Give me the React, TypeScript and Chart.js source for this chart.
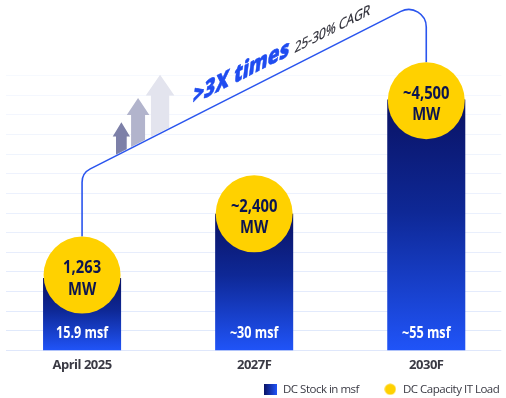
import React, { useEffect, useRef } from 'react';
import { Chart, registerables } from 'chart.js';

Chart.register(...registerables);

// ---------------- data ----------------
const CATEGORIES = ['April 2025', '2027F', '2030F'];
const DC_STOCK_MSF = [15.9, 30, 55];
const DC_STOCK_LABELS = ['15.9 msf', '~30 msf', '~55 msf'];
const IT_LOAD_MW = [1263, 2400, 4500];
const IT_LOAD_LABELS = ['1,263', '~2,400', '~4,500'];
const IT_LOAD_UNIT = 'MW';
const GROWTH_TEXT = '>3X times';
const CAGR_TEXT = '25-30% CAGR';
const LEGEND_LABELS = ['DC Stock in msf', 'DC Capacity IT Load'];

// ---------------- style ----------------
const W = 506;
const H = 398;
const FONT = '"Open Sans", "Noto Sans", sans-serif';
const NAVY = '#0a1263';
const MID = '#0e2896';
const BLUE = '#2054f8';
const YELLOW = '#FFD100';
const LINE_BLUE = '#2a55ee';
const TEXT_DARK = '#3a3a44';
const CIRCLE_TEXT = '#0b1450';
const SLOPE = -0.507;

const ARROWS = [
  { dx: 39.3, head: 17.3, shaft: 10.7, rise: 30.8, headH: 14.3, color: '#7d80a8' },
  { dx: 56, head: 22.6, shaft: 14, rise: 46.7, headH: 17, color: '#b2b4cc' },
  { dx: 78, head: 28.6, shaft: 18.3, rise: 58.6, headH: 20.7, color: '#e3e4ee' },
];

function geom(chart: any) {
  const pts = chart.getDatasetMeta(1).data;
  if (!pts || pts.length < 2 || !chart.chartArea) return null;
  const first = pts[0];
  const last = pts[pts.length - 1];
  const x1 = first.x;
  const x3 = last.x;
  const yC2 = chart.chartArea.top - 77;
  const yC1 = yC2 - SLOPE * (x3 - x1);
  const r1 = first.options.radius;
  const r3 = last.options.radius;
  return {
    x1, x3, yC1, yC2,
    start: first.y - r1,
    end: last.y - r3,
    yAt: (x: number) => yC1 + SLOPE * (x - x1),
  };
}

function scaledText(ctx: any, text: string, x: number, y: number, font: string, color: string, sx: number) {
  ctx.save();
  ctx.letterSpacing = '0px';
  ctx.font = font;
  ctx.fillStyle = color;
  ctx.textAlign = 'center';
  ctx.textBaseline = 'alphabetic';
  ctx.translate(x, y);
  ctx.scale(sx, 1);
  ctx.fillText(text, 0, 0);
  ctx.restore();
}

function skewText(ctx: any, text: string, x: number, y: number, font: string, color: string, sx: number, lean: number, stroke: number) {
  ctx.save();
  ctx.letterSpacing = '0px';
  ctx.font = font;
  ctx.fillStyle = color;
  ctx.strokeStyle = color;
  ctx.textAlign = 'left';
  ctx.textBaseline = 'alphabetic';
  const w = ctx.measureText(text).width * sx;
  ctx.translate(x, y);
  ctx.transform(1, SLOPE, lean, 1, 0, 0);
  ctx.scale(sx, 1);
  ctx.fillText(text, 0, 0);
  if (stroke > 0) {
    ctx.lineWidth = stroke;
    ctx.lineJoin = 'round';
    ctx.strokeText(text, 0, 0);
  }
  ctx.restore();
  return w;
}

const spacingPlugin = {
  id: 'spacing',
  beforeUpdate(chart: any) { chart.ctx.letterSpacing = '-0.5px'; },
  beforeLayout(chart: any) { chart.ctx.letterSpacing = '-0.5px'; },
  beforeDraw(chart: any) { chart.ctx.letterSpacing = '-0.5px'; },
};

const decorPlugin = {
  id: 'decor',
  beforeDatasetsDraw(chart: any) {
    const g = geom(chart);
    if (!g) return;
    const ctx = chart.ctx;
    // growth arrows standing on the connector
    ctx.save();
    ctx.beginPath();
    ctx.moveTo(g.x1 - 60, g.yAt(g.x1 - 60) - 1.2);
    ctx.lineTo(g.x3, g.yAt(g.x3) - 1.2);
    ctx.lineTo(g.x3, -60);
    ctx.lineTo(g.x1 - 60, -60);
    ctx.closePath();
    ctx.clip();
    ARROWS.forEach((a) => {
      const cx = g.x1 + a.dx;
      const base = g.yAt(cx);
      const tip = base - a.rise;
      const neck = tip + a.headH;
      ctx.beginPath();
      ctx.moveTo(cx, tip);
      ctx.lineTo(cx + a.head / 2, neck);
      ctx.lineTo(cx + a.shaft / 2, neck);
      ctx.lineTo(cx + a.shaft / 2, base + 20);
      ctx.lineTo(cx - a.shaft / 2, base + 20);
      ctx.lineTo(cx - a.shaft / 2, neck);
      ctx.lineTo(cx - a.head / 2, neck);
      ctx.closePath();
      ctx.fillStyle = a.color;
      ctx.fill();
    });
    ctx.restore();
    // connector line
    ctx.save();
    ctx.strokeStyle = LINE_BLUE;
    ctx.lineWidth = 1.6;
    ctx.beginPath();
    ctx.moveTo(g.x1, g.start);
    ctx.arcTo(g.x1, g.yC1, g.x3, g.yC2, 15);
    ctx.arcTo(g.x3, g.yC2, g.x3, g.end, 17.5);
    ctx.lineTo(g.x3, g.end);
    ctx.stroke();
    ctx.restore();
  },
  afterDatasetsDraw(chart: any) {
    const ctx = chart.ctx;
    const area = chart.chartArea;
    const bars = chart.getDatasetMeta(0).data;
    bars.forEach((el: any, i: number) => {
      scaledText(ctx, DC_STOCK_LABELS[i], el.x, area.bottom - 13, `bold 16px ${FONT}`, '#ffffff', 0.79);
    });
    const pts = chart.getDatasetMeta(1).data;
    pts.forEach((el: any, i: number) => {
      scaledText(ctx, IT_LOAD_LABELS[i], el.x, el.y - 1.7, `bold 18.5px ${FONT}`, CIRCLE_TEXT, 0.8);
      scaledText(ctx, IT_LOAD_UNIT, el.x, el.y + 19.5, `bold 18.5px ${FONT}`, CIRCLE_TEXT, 0.8);
    });
    const g = geom(chart);
    if (!g) return;
    const xs = g.x1 + 0.32 * (g.x3 - g.x1);
    const w = skewText(ctx, GROWTH_TEXT, xs, g.yAt(xs) - 12.6, `800 25px ${FONT}`, '#1f4cf0', 0.76, -0.12, 0.6);
    const xs2 = xs + w + 5.5;
    skewText(ctx, CAGR_TEXT, xs2, g.yAt(xs2) - 12.6, `15px ${FONT}`, '#2a2a34', 0.8, -0.1, 0.25);
  },
};

export default function App() {
  const ref = useRef<HTMLCanvasElement>(null);
  useEffect(() => {
    const canvas = ref.current;
    if (!canvas) return;

    const square = document.createElement('canvas');
    square.width = 13;
    square.height = 11;
    const sctx = square.getContext('2d')!;
    const sg = sctx.createLinearGradient(0, 0, 13, 0);
    sg.addColorStop(0, NAVY);
    sg.addColorStop(1, BLUE);
    sctx.fillStyle = sg;
    sctx.fillRect(0, 0, 13, 11);

    const dot = document.createElement('canvas');
    dot.width = 12;
    dot.height = 12;
    const dctx = dot.getContext('2d')!;
    dctx.fillStyle = YELLOW;
    dctx.beginPath();
    dctx.arc(6, 6, 5.6, 0, Math.PI * 2);
    dctx.fill();

    const barGradient = (c: any) => {
      const chart = c.chart;
      if (!chart.chartArea || c.type !== 'data') return BLUE;
      const ys = chart.scales.y;
      const top = ys.getPixelForValue(c.parsed.y);
      const bottom = ys.getPixelForValue(0);
      const g = chart.ctx.createLinearGradient(0, top, 0, bottom);
      g.addColorStop(0, NAVY);
      g.addColorStop(0.45, MID);
      g.addColorStop(1, BLUE);
      return g;
    };

    const chart = new Chart(canvas, {
      type: 'bar',
      data: {
        datasets: [
          {
            type: 'bar',
            label: LEGEND_LABELS[0],
            data: CATEGORIES.map((_, i) => ({ x: i, y: DC_STOCK_MSF[i] })),
            xAxisID: 'x',
            yAxisID: 'y',
            order: 1,
            barPercentage: 0.4535,
            categoryPercentage: 1,
            backgroundColor: barGradient,
            borderWidth: 0,
          } as any,
          {
            type: 'line',
            label: LEGEND_LABELS[1],
            data: CATEGORIES.map((_, i) => ({ x: i, y: IT_LOAD_MW[i] })),
            xAxisID: 'x',
            yAxisID: 'yMW',
            order: 0,
            showLine: false,
            pointRadius: 38.5,
            pointHoverRadius: 38.5,
            pointBackgroundColor: YELLOW,
            pointBorderColor: YELLOW,
            pointBorderWidth: 0,
            clip: false,
          } as any,
        ],
      },
      options: {
        responsive: false,
        animation: false,
        events: [],
        layout: { autoPadding: false, padding: { left: 6, right: 4.7, top: 75.5, bottom: -7 } },
        plugins: {
          tooltip: { enabled: false },
          legend: {
            display: true,
            position: 'bottom',
            align: 'end',
            labels: {
              usePointStyle: true,
              pointStyleWidth: 14,
              padding: 2,
              color: TEXT_DARK,
              font: { family: FONT, size: 11.5 },
              generateLabels: () => [
                {
                  text: LEGEND_LABELS[0] + ' '.repeat(9),
                  pointStyle: square,
                  fillStyle: BLUE,
                  strokeStyle: 'rgba(0,0,0,0)',
                  lineWidth: 0,
                  hidden: false,
                  datasetIndex: 0,
                  fontColor: TEXT_DARK,
                },
                {
                  text: LEGEND_LABELS[1],
                  pointStyle: dot,
                  fillStyle: YELLOW,
                  strokeStyle: 'rgba(0,0,0,0)',
                  lineWidth: 0,
                  hidden: false,
                  datasetIndex: 1,
                  fontColor: TEXT_DARK,
                },
              ] as any,
            },
          },
        },
        scales: {
          x: {
            type: 'linear',
            min: -0.442,
            max: 2.436,
            offset: false,
            grid: { display: false, drawTicks: false },
            border: { display: false },
            afterBuildTicks: (s: any) => {
              s.ticks = CATEGORIES.map((_, i) => ({ value: i }));
            },
            afterFit: (s: any) => {
              s.height = 31;
              s.paddingLeft = 0;
              s.paddingRight = 0;
            },
            ticks: {
              autoSkip: false,
              maxRotation: 0,
              padding: 7,
              color: TEXT_DARK,
              font: { family: FONT, size: 13, weight: 'bold' },
              callback: (v: any) => CATEGORIES[v] ?? '',
            },
          } as any,
          y: { type: 'linear', display: false, min: 0, max: 60.28 },
          yMW: { type: 'linear', display: false, min: -136, max: 4968 },
          yGrid: {
            type: 'linear',
            position: 'left',
            min: 0,
            max: 14,
            afterBuildTicks: (s: any) => {
              s.ticks = Array.from({ length: 15 }, (_, i) => ({ value: i }));
            },
            afterFit: (s: any) => {
              s.width = 0;
              s.paddingTop = 0;
              s.paddingBottom = 0;
            },
            ticks: { display: false },
            border: { display: false },
            grid: {
              drawTicks: false,
              lineWidth: 1,
              color: (c: any) => {
                const v = c.tick ? c.tick.value : 0;
                const a = 0.55 - 0.4 * (v / 14);
                return `rgba(196, 212, 248, ${a.toFixed(3)})`;
              },
            },
          } as any,
        },
      },
      plugins: [spacingPlugin, decorPlugin],
    } as any);

    return () => chart.destroy();
  }, []);

  return (
    <div style={{ position: 'absolute', left: 0, top: 0, width: W, height: H, background: '#ffffff' }}>
      <canvas ref={ref} width={W} height={H} style={{ display: 'block', width: W, height: H }} />
    </div>
  );
}
